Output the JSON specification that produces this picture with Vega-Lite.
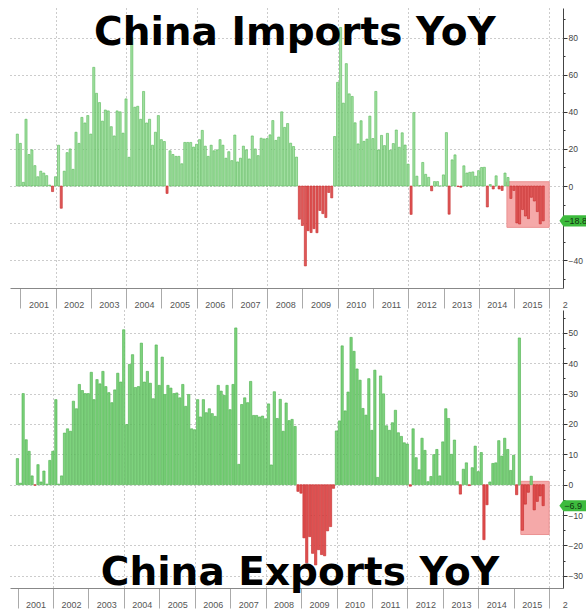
{
  "$schema": "https://vega.github.io/schema/vega-lite/v6.json",
  "background": "white",
  "padding": {"left": 10, "top": 8, "right": 0, "bottom": 0},
  "spacing": 22,
  "bounds": "flush",
  "resolve": {"scale": {"x": "independent", "y": "independent"}},
  "config": {"view": {"stroke": null}, "font": "Liberation Sans"},
  "datasets": {
    "boxes": [
      {"panel": "imp", "d": "2014-10-20", "d2": "2016-01-01", "imp": -22.3, "imp2": 2.3, "exp": null, "exp2": null},
      {"panel": "exp", "d": "2015-03-15", "d2": "2016-01-01", "imp": null, "imp2": null, "exp": -16.4, "exp2": 1.1}
    ],
    "trade": [
      {"d": "2000-11-30", "imp": 28, "exp": null},
      {"d": "2000-12-31", "imp": 23, "exp": 8.6},
      {"d": "2001-01-31", "imp": 2, "exp": 0.5},
      {"d": "2001-02-28", "imp": 36, "exp": 30},
      {"d": "2001-03-31", "imp": 17, "exp": 14.8},
      {"d": "2001-04-30", "imp": 19.5, "exp": 11},
      {"d": "2001-05-31", "imp": 11, "exp": 2.9},
      {"d": "2001-06-30", "imp": 5, "exp": -0.2},
      {"d": "2001-07-31", "imp": 8, "exp": 6.6},
      {"d": "2001-08-31", "imp": 7, "exp": 0.9},
      {"d": "2001-09-30", "imp": 5.6, "exp": 4.5},
      {"d": "2001-10-31", "imp": 0.5, "exp": 0.2},
      {"d": "2001-11-30", "imp": -3, "exp": 8},
      {"d": "2001-12-31", "imp": 5, "exp": 11},
      {"d": "2002-01-31", "imp": 22, "exp": 28},
      {"d": "2002-02-28", "imp": -12, "exp": 0.2},
      {"d": "2002-03-31", "imp": 8, "exp": 2.9},
      {"d": "2002-04-30", "imp": 18, "exp": 17},
      {"d": "2002-05-31", "imp": 20, "exp": 18.4},
      {"d": "2002-06-30", "imp": 9, "exp": 17.6},
      {"d": "2002-07-31", "imp": 29, "exp": 27.5},
      {"d": "2002-08-31", "imp": 23, "exp": 25},
      {"d": "2002-09-30", "imp": 37, "exp": 33},
      {"d": "2002-10-31", "imp": 34, "exp": 31},
      {"d": "2002-11-30", "imp": 38, "exp": 30},
      {"d": "2002-12-31", "imp": 28, "exp": 30},
      {"d": "2003-01-31", "imp": 64, "exp": 37},
      {"d": "2003-02-28", "imp": 50, "exp": 28},
      {"d": "2003-03-31", "imp": 45, "exp": 34.6},
      {"d": "2003-04-30", "imp": 35, "exp": 33.2},
      {"d": "2003-05-31", "imp": 41, "exp": 37.3},
      {"d": "2003-06-30", "imp": 40.5, "exp": 32.3},
      {"d": "2003-07-31", "imp": 32, "exp": 30.3},
      {"d": "2003-08-31", "imp": 27, "exp": 27},
      {"d": "2003-09-30", "imp": 40.5, "exp": 31.2},
      {"d": "2003-10-31", "imp": 40, "exp": 36.7},
      {"d": "2003-11-30", "imp": 28.5, "exp": 33.8},
      {"d": "2003-12-31", "imp": 47, "exp": 51},
      {"d": "2004-01-31", "imp": 15.5, "exp": 19.8},
      {"d": "2004-02-29", "imp": 80, "exp": 39.6},
      {"d": "2004-03-31", "imp": 42.5, "exp": 42.8},
      {"d": "2004-04-30", "imp": 43, "exp": 32},
      {"d": "2004-05-31", "imp": 36, "exp": 32.3},
      {"d": "2004-06-30", "imp": 51, "exp": 46.6},
      {"d": "2004-07-31", "imp": 34, "exp": 33.8},
      {"d": "2004-08-31", "imp": 36, "exp": 37.3},
      {"d": "2004-09-30", "imp": 22, "exp": 33.4},
      {"d": "2004-10-31", "imp": 29, "exp": 28.3},
      {"d": "2004-11-30", "imp": 38, "exp": 46},
      {"d": "2004-12-31", "imp": 25, "exp": 32.7},
      {"d": "2005-01-31", "imp": 24, "exp": 42},
      {"d": "2005-02-28", "imp": -4, "exp": 29.7},
      {"d": "2005-03-31", "imp": 19, "exp": 32.7},
      {"d": "2005-04-30", "imp": 17, "exp": 31.8},
      {"d": "2005-05-31", "imp": 16, "exp": 30},
      {"d": "2005-06-30", "imp": 16, "exp": 30.2},
      {"d": "2005-07-31", "imp": 12, "exp": 28.6},
      {"d": "2005-08-31", "imp": 23.5, "exp": 33},
      {"d": "2005-09-30", "imp": 23.5, "exp": 25.8},
      {"d": "2005-10-31", "imp": 23.5, "exp": 29.7},
      {"d": "2005-11-30", "imp": 21, "exp": 18.4},
      {"d": "2005-12-31", "imp": 22.5, "exp": 18.1},
      {"d": "2006-01-31", "imp": 25, "exp": 28},
      {"d": "2006-02-28", "imp": 30, "exp": 22.3},
      {"d": "2006-03-31", "imp": 21.5, "exp": 28},
      {"d": "2006-04-30", "imp": 16, "exp": 23.7},
      {"d": "2006-05-31", "imp": 22, "exp": 25},
      {"d": "2006-06-30", "imp": 19, "exp": 23.4},
      {"d": "2006-07-31", "imp": 19.5, "exp": 22.5},
      {"d": "2006-08-31", "imp": 25, "exp": 32.7},
      {"d": "2006-09-30", "imp": 22, "exp": 30.8},
      {"d": "2006-10-31", "imp": 15, "exp": 29.4},
      {"d": "2006-11-30", "imp": 18.5, "exp": 32.7},
      {"d": "2006-12-31", "imp": 13.7, "exp": 24.7},
      {"d": "2007-01-31", "imp": 27.5, "exp": 33},
      {"d": "2007-02-28", "imp": 13, "exp": 51.6},
      {"d": "2007-03-31", "imp": 15, "exp": 6.7},
      {"d": "2007-04-30", "imp": 21.5, "exp": 26.4},
      {"d": "2007-05-31", "imp": 19.5, "exp": 28.6},
      {"d": "2007-06-30", "imp": 14.6, "exp": 27},
      {"d": "2007-07-31", "imp": 27, "exp": 34},
      {"d": "2007-08-31", "imp": 20, "exp": 22.8},
      {"d": "2007-09-30", "imp": 16.4, "exp": 22.8},
      {"d": "2007-10-31", "imp": 25.8, "exp": 22.3},
      {"d": "2007-11-30", "imp": 25.4, "exp": 22.6},
      {"d": "2007-12-31", "imp": 25.6, "exp": 21.7},
      {"d": "2008-01-31", "imp": 27.6, "exp": 26.6},
      {"d": "2008-02-29", "imp": 35.3, "exp": 6.5},
      {"d": "2008-03-31", "imp": 24.6, "exp": 30.6},
      {"d": "2008-04-30", "imp": 26.4, "exp": 21.8},
      {"d": "2008-05-31", "imp": 40.0, "exp": 28.1},
      {"d": "2008-06-30", "imp": 31.6, "exp": 17.6},
      {"d": "2008-07-31", "imp": 33.7, "exp": 26.9},
      {"d": "2008-08-31", "imp": 23.1, "exp": 21.1},
      {"d": "2008-09-30", "imp": 21.3, "exp": 21.5},
      {"d": "2008-10-31", "imp": 15.6, "exp": 19.2},
      {"d": "2008-11-30", "imp": -17.9, "exp": -2.2},
      {"d": "2008-12-31", "imp": -21.3, "exp": -2.8},
      {"d": "2009-01-31", "imp": -43.1, "exp": -17.5},
      {"d": "2009-02-28", "imp": -24.1, "exp": -25.7},
      {"d": "2009-03-31", "imp": -25.1, "exp": -17.1},
      {"d": "2009-04-30", "imp": -23.0, "exp": -22.6},
      {"d": "2009-05-31", "imp": -25.2, "exp": -26.4},
      {"d": "2009-06-30", "imp": -13.2, "exp": -21.4},
      {"d": "2009-07-31", "imp": -14.9, "exp": -23.0},
      {"d": "2009-08-31", "imp": -17.0, "exp": -23.4},
      {"d": "2009-09-30", "imp": -3.5, "exp": -15.2},
      {"d": "2009-10-31", "imp": -6.4, "exp": -13.8},
      {"d": "2009-11-30", "imp": 26.7, "exp": -1.2},
      {"d": "2009-12-31", "imp": 55.9, "exp": 17.7},
      {"d": "2010-01-31", "imp": 85.5, "exp": 21.0},
      {"d": "2010-02-28", "imp": 44.7, "exp": 45.7},
      {"d": "2010-03-31", "imp": 66.0, "exp": 24.3},
      {"d": "2010-04-30", "imp": 49.7, "exp": 30.5},
      {"d": "2010-05-31", "imp": 48.3, "exp": 48.5},
      {"d": "2010-06-30", "imp": 34.1, "exp": 43.9},
      {"d": "2010-07-31", "imp": 22.7, "exp": 38.1},
      {"d": "2010-08-31", "imp": 35.2, "exp": 34.4},
      {"d": "2010-09-30", "imp": 24.1, "exp": 25.1},
      {"d": "2010-10-31", "imp": 25.3, "exp": 22.9},
      {"d": "2010-11-30", "imp": 37.7, "exp": 34.9},
      {"d": "2010-12-31", "imp": 25.6, "exp": 17.9},
      {"d": "2011-01-31", "imp": 51.0, "exp": 37.7},
      {"d": "2011-02-28", "imp": 19.4, "exp": 2.4},
      {"d": "2011-03-31", "imp": 27.3, "exp": 35.8},
      {"d": "2011-04-30", "imp": 21.8, "exp": 29.9},
      {"d": "2011-05-31", "imp": 28.4, "exp": 19.4},
      {"d": "2011-06-30", "imp": 19.3, "exp": 17.9},
      {"d": "2011-07-31", "imp": 22.9, "exp": 20.4},
      {"d": "2011-08-31", "imp": 30.2, "exp": 24.5},
      {"d": "2011-09-30", "imp": 20.9, "exp": 17.1},
      {"d": "2011-10-31", "imp": 28.7, "exp": 15.9},
      {"d": "2011-11-30", "imp": 22.1, "exp": 13.8},
      {"d": "2011-12-31", "imp": 11.8, "exp": 13.4},
      {"d": "2012-01-31", "imp": -15.3, "exp": -0.5},
      {"d": "2012-02-29", "imp": 39.6, "exp": 18.4},
      {"d": "2012-03-31", "imp": 5.3, "exp": 8.9},
      {"d": "2012-04-30", "imp": 0.3, "exp": 4.9},
      {"d": "2012-05-31", "imp": 12.7, "exp": 15.3},
      {"d": "2012-06-30", "imp": 6.3, "exp": 11.3},
      {"d": "2012-07-31", "imp": 4.7, "exp": 1.0},
      {"d": "2012-08-31", "imp": -2.6, "exp": 2.7},
      {"d": "2012-09-30", "imp": 2.4, "exp": 9.9},
      {"d": "2012-10-31", "imp": 2.4, "exp": 11.6},
      {"d": "2012-11-30", "imp": 0.0, "exp": 2.9},
      {"d": "2012-12-31", "imp": 6.0, "exp": 14.1},
      {"d": "2013-01-31", "imp": 28.8, "exp": 25.0},
      {"d": "2013-02-28", "imp": -15.2, "exp": 21.8},
      {"d": "2013-03-31", "imp": 14.1, "exp": 10.0},
      {"d": "2013-04-30", "imp": 16.8, "exp": 14.7},
      {"d": "2013-05-31", "imp": -0.3, "exp": 1.0},
      {"d": "2013-06-30", "imp": -0.7, "exp": -3.1},
      {"d": "2013-07-31", "imp": 10.9, "exp": 5.1},
      {"d": "2013-08-31", "imp": 7.0, "exp": 7.2},
      {"d": "2013-09-30", "imp": 7.4, "exp": -0.3},
      {"d": "2013-10-31", "imp": 7.6, "exp": 5.6},
      {"d": "2013-11-30", "imp": 5.3, "exp": 12.7},
      {"d": "2013-12-31", "imp": 8.3, "exp": 4.3},
      {"d": "2014-01-31", "imp": 10.0, "exp": 10.6},
      {"d": "2014-02-28", "imp": 10.1, "exp": -18.1},
      {"d": "2014-03-31", "imp": -11.3, "exp": -6.6},
      {"d": "2014-04-30", "imp": 0.8, "exp": 0.9},
      {"d": "2014-05-31", "imp": -1.6, "exp": 7.0},
      {"d": "2014-06-30", "imp": 5.5, "exp": 7.2},
      {"d": "2014-07-31", "imp": -1.6, "exp": 14.5},
      {"d": "2014-08-31", "imp": -2.4, "exp": 9.4},
      {"d": "2014-09-30", "imp": 7.0, "exp": 15.3},
      {"d": "2014-10-31", "imp": 4.6, "exp": 11.6},
      {"d": "2014-11-30", "imp": -6.7, "exp": 4.7},
      {"d": "2014-12-31", "imp": -2.4, "exp": 9.7},
      {"d": "2015-01-31", "imp": -19.9, "exp": -3.3},
      {"d": "2015-02-28", "imp": -20.5, "exp": 48.3},
      {"d": "2015-03-31", "imp": -12.7, "exp": -15.0},
      {"d": "2015-04-30", "imp": -16.2, "exp": -6.4},
      {"d": "2015-05-31", "imp": -17.6, "exp": -2.5},
      {"d": "2015-06-30", "imp": -6.1, "exp": 2.8},
      {"d": "2015-07-31", "imp": -8.1, "exp": -8.3},
      {"d": "2015-08-31", "imp": -13.8, "exp": -5.5},
      {"d": "2015-09-30", "imp": -20.4, "exp": -3.7},
      {"d": "2015-10-31", "imp": -18.8, "exp": -6.9}
    ]
  },
  "vconcat": [
    {
      "width": 553,
      "height": 280,
      "encoding": {
        "x": {
          "field": "d", "type": "temporal",
          "scale": {"type": "utc", "domain": [{"year": 2000, "month": 11, "date": 6, "utc": true}, {"year": 2016, "month": 4, "date": 1, "utc": true}]},
          "axis": {
            "title": null, "tickCount": {"interval": "year", "step": 1},
            "labelExpr": "utcyear(datum.value) == 2016 ? '2' : utcFormat(datum.value, '%Y')",
            "labelOffset": 18,
            "labelAlign": {"condition": {"test": "utcyear(datum.value) == 2016", "value": "right"}, "value": "center"},
            "labelBaseline": "top", "labelPadding": -8,
            "labelFontSize": 9, "labelColor": "#555555", "labelFlush": false, "labelOverlap": false, "labelBound": false,
            "tickSize": 20, "tickColor": "#aaaaaa", "domainColor": "#888888",
            "grid": true, "gridDash": [1, 3], "gridColor": "#999999",
            "gridOpacity": {"condition": {"test": "utcyear(datum.value) % 2 == 0", "value": 1}, "value": 0}
          }
        },
        "y": {
          "field": "imp", "type": "quantitative",
          "scale": {"domain": [-55, 96], "nice": false, "zero": false},
          "axis": {
            "title": null, "orient": "right",
            "values": [-50, -40, -30, -20, -10, 0, 10, 20, 30, 40, 50, 60, 70, 80, 90],
            "labelExpr": "datum.value % 20 == 0 && datum.value != -20 ? datum.label : ''",
            "labelFontSize": 8.5, "labelColor": "#444444", "labelPadding": 1, "labelOverlap": false, "labelFlush": false,
            "tickSize": {"condition": {"test": "datum.value % 20 == 0", "value": 4}, "value": 2},
            "tickColor": "#333333", "domainColor": "#444444",
            "grid": true, "gridDash": [1, 3], "gridColor": "#999999",
            "gridOpacity": {"condition": {"test": "datum.value % 20 == 0", "value": 1}, "value": 0}
          }
        }
      },
      "layer": [
        {
          "data": {"name": "boxes"},
          "transform": [{"filter": "datum.panel == 'imp'"}],
          "mark": {"type": "rect", "fill": "#f5a9a9", "stroke": "#eb9292", "strokeWidth": 1},
          "encoding": {"x2": {"field": "d2"}, "y2": {"field": "imp2"}}
        },
        {
          "data": {"name": "trade"},
          "mark": {"type": "bar", "size": 2.1, "strokeWidth": 0.6},
          "encoding": {
            "y2": {"datum": 0},
            "fill": {"condition": {"test": "datum.imp < 0", "value": "#e05a5a"}, "value": "#a3e0a3"},
            "stroke": {"condition": {"test": "datum.imp < 0", "value": "#c62828"}, "value": "#55b855"}
          }
        },
        {
          "data": {"name": "trade"},
          "transform": [{"filter": {"field": "d", "equal": {"year": 2015, "month": 10, "date": 31, "utc": true}}}],
          "mark": {"type": "point", "shape": "M -1 0 L -0.72 -0.38 L 1 -0.38 L 1 0.38 L -0.72 0.38 Z", "size": 841, "filled": true, "fill": "#3dbb3d", "strokeWidth": 0, "opacity": 1, "xOffset": 30.7}
        },
        {
          "data": {"name": "trade"},
          "transform": [{"filter": {"field": "d", "equal": {"year": 2015, "month": 10, "date": 31, "utc": true}}}],
          "mark": {"type": "text", "align": "left", "baseline": "middle", "dx": 21, "fontSize": 9, "font": "Liberation Sans", "fill": "#113311"},
          "encoding": {"text": {"field": "imp", "type": "quantitative", "format": ".1f"}}
        },
        {
          "data": {"name": "trade"},
          "transform": [{"filter": {"field": "d", "equal": {"year": 2008, "month": 10, "date": 31, "utc": true}}}],
          "mark": {"type": "text", "align": "center", "baseline": "alphabetic", "dx": -1.6, "font": "DejaVu Sans", "fontSize": 39, "fontWeight": "bold", "fill": "#000000"},
          "encoding": {
            "y": {"datum": 76, "type": "quantitative"},
            "text": {"value": "China Imports YoY"}
          }
        }
      ]
    },
    {
      "width": 553,
      "height": 278,
      "encoding": {
        "x": {
          "field": "d", "type": "temporal",
          "scale": {"type": "utc", "domain": [{"year": 2000, "month": 12, "date": 6, "utc": true}, {"year": 2016, "month": 4, "date": 1, "utc": true}]},
          "axis": {
            "title": null, "tickCount": {"interval": "year", "step": 1},
            "labelExpr": "utcyear(datum.value) == 2016 ? '2' : utcFormat(datum.value, '%Y')",
            "labelOffset": 18,
            "labelAlign": {"condition": {"test": "utcyear(datum.value) == 2016", "value": "right"}, "value": "center"},
            "labelBaseline": "top", "labelPadding": -8,
            "labelFontSize": 9, "labelColor": "#555555", "labelFlush": false, "labelOverlap": false, "labelBound": false,
            "tickSize": 20, "tickColor": "#aaaaaa", "domainColor": "#888888",
            "grid": true, "gridDash": [1, 3], "gridColor": "#999999",
            "gridOpacity": {"condition": {"test": "utcyear(datum.value) % 2 == 0", "value": 1}, "value": 0}
          }
        },
        "y": {
          "field": "exp", "type": "quantitative",
          "scale": {"domain": [-34, 57.5], "nice": false, "zero": false},
          "axis": {
            "title": null, "orient": "right",
            "values": [-30, -25, -20, -15, -10, -5, 0, 5, 10, 15, 20, 25, 30, 35, 40, 45, 50, 55],
            "labelExpr": "datum.value % 10 == 0 ? datum.label : ''",
            "labelFontSize": 8.5, "labelColor": "#444444", "labelPadding": 1, "labelOverlap": false, "labelFlush": false,
            "tickSize": {"condition": {"test": "datum.value % 10 == 0", "value": 4}, "value": 2},
            "tickColor": "#333333", "domainColor": "#444444",
            "grid": true, "gridDash": [1, 3], "gridColor": "#999999",
            "gridOpacity": {"condition": {"test": "datum.value % 10 == 0", "value": 1}, "value": 0}
          }
        }
      },
      "layer": [
        {
          "data": {"name": "boxes"},
          "transform": [{"filter": "datum.panel == 'exp'"}],
          "mark": {"type": "rect", "fill": "#f5a9a9", "stroke": "#eb9292", "strokeWidth": 1},
          "encoding": {"x2": {"field": "d2"}, "y2": {"field": "exp2"}}
        },
        {
          "data": {"name": "trade"},
          "transform": [{"filter": "isValid(datum.exp)"}],
          "mark": {"type": "bar", "size": 2.3, "strokeWidth": 0.6},
          "encoding": {
            "y2": {"datum": 0},
            "fill": {"condition": {"test": "datum.exp < 0", "value": "#e05050"}, "value": "#7dd27d"},
            "stroke": {"condition": {"test": "datum.exp < 0", "value": "#c62828"}, "value": "#4cb04c"}
          }
        },
        {
          "data": {"name": "trade"},
          "transform": [{"filter": {"field": "d", "equal": {"year": 2015, "month": 10, "date": 31, "utc": true}}}],
          "mark": {"type": "point", "shape": "M -1 0 L -0.72 -0.38 L 1 -0.38 L 1 0.38 L -0.72 0.38 Z", "size": 841, "filled": true, "fill": "#3dbb3d", "strokeWidth": 0, "opacity": 1, "xOffset": 30.7}
        },
        {
          "data": {"name": "trade"},
          "transform": [{"filter": {"field": "d", "equal": {"year": 2015, "month": 10, "date": 31, "utc": true}}}],
          "mark": {"type": "text", "align": "left", "baseline": "middle", "dx": 21, "fontSize": 9, "font": "Liberation Sans", "fill": "#113311"},
          "encoding": {"text": {"field": "exp", "type": "quantitative", "format": ".1f"}}
        },
        {
          "data": {"name": "trade"},
          "transform": [{"filter": {"field": "d", "equal": {"year": 2008, "month": 12, "date": 31, "utc": true}}}],
          "mark": {"type": "text", "align": "center", "baseline": "alphabetic", "dx": -1, "font": "DejaVu Sans", "fontSize": 39, "fontWeight": "bold", "fill": "#000000"},
          "encoding": {
            "y": {"datum": -33, "type": "quantitative"},
            "text": {"value": "China Exports YoY"}
          }
        }
      ]
    }
  ]
}
